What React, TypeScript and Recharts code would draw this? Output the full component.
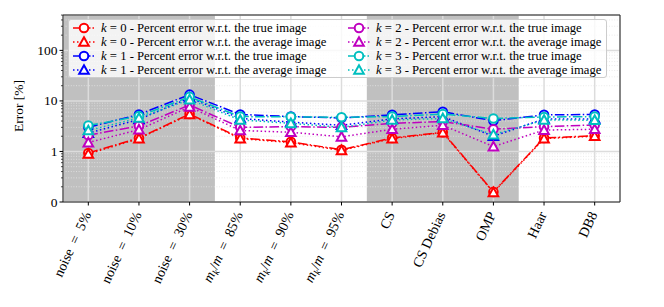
import React from 'react';
import { LineChart, Line, XAxis, YAxis, CartesianGrid, ReferenceArea, ReferenceLine } from 'recharts';

const CATEGORIES = ['noise5', 'noise10', 'noise30', 'mk85', 'mk90', 'mk95', 'CS', 'CS Debias', 'OMP', 'Haar', 'DB8'];
const PERCENTS = ['5%', '10%', '30%', '85%', '90%', '95%'];

// errors in %
const K0_TRUE = [0.97, 1.85, 5.5, 1.85, 1.55, 1.08, 1.85, 2.4, 0.2, 1.85, 2.05];
const K0_AVG = [0.95, 1.8, 5.4, 1.8, 1.5, 1.05, 1.8, 2.35, 0.19, 1.8, 2.0];
const K1_TRUE = [3.0, 5.4, 13.3, 5.4, 4.9, 4.6, 5.3, 6.1, 4.05, 5.3, 5.4];
const K1_AVG = [2.3, 4.3, 11.5, 4.5, 3.8, 3.3, 4.4, 4.9, 2.0, 4.4, 4.4];
const K2_TRUE = [2.1, 3.2, 8.3, 3.0, 3.1, 3.0, 3.6, 3.9, 2.75, 3.1, 3.35];
const K2_AVG = [1.5, 2.7, 7.6, 2.6, 2.4, 1.95, 2.75, 3.3, 1.25, 2.65, 2.75];
const K3_TRUE = [3.25, 5.0, 12.0, 4.9, 4.85, 4.75, 4.9, 5.5, 4.5, 4.8, 4.9];
const K3_AVG = [2.6, 4.6, 10.6, 4.2, 3.6, 3.0, 4.2, 4.5, 2.15, 4.2, 4.15];

const Y_TICKS = [0, 1, 10, 100];

// symlog-like: linear up to 1, then one unit per decade
const symlog = (v: number) => (v <= 1 ? v : 1 + Math.log10(v));

const DATA = CATEGORIES.map((name, i) => ({
  i,
  name,
  k0True: K0_TRUE[i],
  k0Avg: K0_AVG[i],
  k1True: K1_TRUE[i],
  k1Avg: K1_AVG[i],
  k2True: K2_TRUE[i],
  k2Avg: K2_AVG[i],
  k3True: K3_TRUE[i],
  k3Avg: K3_AVG[i],
}));

const COLORS = ['#ff0000', '#0000ff', '#bf00bf', '#00bfbf'];
const SERIES = [0, 1, 2, 3].flatMap((k) => [
  { key: `k${k}True`, k, color: COLORS[k], avg: false },
  { key: `k${k}Avg`, k, color: COLORS[k], avg: true },
]);

const DASHDOT = '9.6 2.4 1.5 2.4';
const DOTTED = '1.5 2.5';
const Y_TOP = 3.7;

const MINOR: number[] = [];
for (let d = 0; d < 4; d++) {
  for (let m = 2; m <= 9; m++) {
    const t = d + Math.log10(m);
    if (t < Y_TOP) MINOR.push(t);
  }
}

const FONT = '"Liberation Serif", "DejaVu Serif", serif';

const Marker = ({ cx, cy, color, avg }: { cx: number; cy: number; color: string; avg: boolean }) => {
  if (cx == null || cy == null) return null;
  if (avg) {
    const s = 4.8;
    return (
      <polygon
        points={`${cx},${cy - s} ${cx - s},${cy + s * 0.8} ${cx + s},${cy + s * 0.8}`}
        fill="#fff"
        stroke={color}
        strokeWidth={2}
      />
    );
  }
  return <circle cx={cx} cy={cy} r={4.3} fill="#fff" stroke={color} strokeWidth={2} />;
};

const XTick = (props: any) => {
  const { x, y, payload } = props;
  const idx = payload.value as number;
  let content: React.ReactNode;
  if (idx < 3) {
    content = <>noise{'\u2002'}={'\u2002'}{PERCENTS[idx]}</>;
  } else if (idx < 6) {
    content = (
      <>
        <tspan fontStyle="italic">m</tspan>
        <tspan fontStyle="italic" fontSize="0.7em" dy={3}>k</tspan>
        <tspan dy={-3}>/</tspan>
        <tspan fontStyle="italic">m</tspan>
        <tspan>{'\u2002'}={'\u2002'}{PERCENTS[idx]}</tspan>
      </>
    );
  } else {
    content = CATEGORIES[idx];
  }
  return (
    <g transform={`translate(${x + 3},${y + 7}) rotate(-65)`}>
      <text textAnchor="end" fontFamily={FONT} fontSize={14} fill="#000">
        {content}
      </text>
    </g>
  );
};

const YTick = (props: any) => {
  const { x, y, payload } = props;
  return (
    <text x={x} y={y} dy={4.5} textAnchor="end" fontFamily={FONT} fontSize={13.5} fill="#000">
      {Y_TICKS[payload.value]}
    </text>
  );
};

const LegendItem = ({ s }: { s: (typeof SERIES)[number] }) => (
  <div style={{ display: 'flex', alignItems: 'center', height: 14 }}>
    <svg width={24} height={14} style={{ marginRight: 5, flexShrink: 0 }}>
      <line
        x1={1}
        x2={23}
        y1={7}
        y2={7}
        stroke={s.color}
        strokeWidth={1.5}
        strokeDasharray={s.avg ? DOTTED : '6 2 1.5 2'}
      />
      <Marker cx={12} cy={7} color={s.color} avg={s.avg} />
    </svg>
    <span style={{ whiteSpace: 'nowrap', lineHeight: '14px' }}>
      <i>k</i> = {s.k} - Percent error w.r.t. the {s.avg ? 'average' : 'true'} image
    </span>
  </div>
);

export default function App() {
  return (
    <div style={{ position: 'absolute', left: 0, top: 0, width: 664, height: 307, background: '#fff' }}>
      <LineChart width={664} height={307} data={DATA} margin={{ top: 15, right: 44, bottom: 15, left: 0 }}>
        <ReferenceArea x1={-0.5} x2={2.5} y1={0} y2={Y_TOP} fill="#c0c0c0" fillOpacity={1} stroke="none" zIndex={-300} />
        <ReferenceArea x1={5.5} x2={8.5} y1={0} y2={Y_TOP} fill="#c0c0c0" fillOpacity={1} stroke="none" zIndex={-300} />
        {MINOR.map((t) => (
          <ReferenceLine
            key={`m${t}`}
            y={t}
            stroke="#e4e4e4"
            strokeWidth={0.8}
            strokeDasharray="1 1.6"
            zIndex={-200}
          />
        ))}
        <CartesianGrid stroke="#dcdcdc" strokeWidth={1.5} />
        {MINOR.map((t) => (
          <ReferenceLine
            key={`mt${t}`}
            segment={[
              { x: -0.54, y: t },
              { x: -0.5, y: t },
            ]}
            ifOverflow="visible"
            stroke="#000"
            strokeWidth={0.7}
          />
        ))}
        <XAxis
          type="number"
          dataKey="i"
          domain={[-0.5, 10.5]}
          ticks={CATEGORIES.map((_, i) => i)}
          interval={0}
          allowDataOverflow
          height={90}
          tickSize={3.5}
          tickLine={{ stroke: '#000' }}
          axisLine={{ stroke: '#222' }}
          tick={<XTick />}
        />
        <YAxis
          type="number"
          domain={[0, Y_TOP]}
          ticks={Y_TICKS.map((_, i) => i)}
          allowDataOverflow
          width={63}
          tickSize={3.5}
          tickLine={{ stroke: '#000' }}
          axisLine={{ stroke: '#222' }}
          tick={<YTick />}
          label={() => (
            <text x={23} y={106} transform="rotate(-90 23 106)" textAnchor="middle" fontFamily={FONT} fontSize={13.5}>
              Error [%]
            </text>
          )}
        />
        <ReferenceLine y={Y_TOP} stroke="#222" strokeWidth={1} />
        <ReferenceLine x={10.5} stroke="#222" strokeWidth={1} />
        {SERIES.map((s) => (
          <Line
            key={s.key}
            dataKey={(d: any) => symlog(d[s.key])}
            stroke={s.color}
            strokeWidth={1.5}
            strokeDasharray={s.avg ? DOTTED : DASHDOT}
            isAnimationActive={false}
            dot={(p: any) => <Marker key={`${s.key}-${p.index}`} cx={p.cx} cy={p.cy} color={s.color} avg={s.avg} />}
            activeDot={false}
          />
        ))}
      </LineChart>
      <div
        style={{
          position: 'absolute',
          left: 68,
          top: 19,
          width: 539,
          height: 59,
          boxSizing: 'border-box',
          background: 'rgba(255,255,255,0.8)',
          border: '1px solid #cccccc',
          borderRadius: 3,
          fontFamily: FONT,
          fontSize: 12.7,
          color: '#000',
        }}
      >
        <div style={{ position: 'absolute', left: 3, top: 1 }}>
          {SERIES.slice(0, 4).map((s) => (
            <LegendItem key={s.key} s={s} />
          ))}
        </div>
        <div style={{ position: 'absolute', left: 278, top: 1 }}>
          {SERIES.slice(4).map((s) => (
            <LegendItem key={s.key} s={s} />
          ))}
        </div>
      </div>
    </div>
  );
}
